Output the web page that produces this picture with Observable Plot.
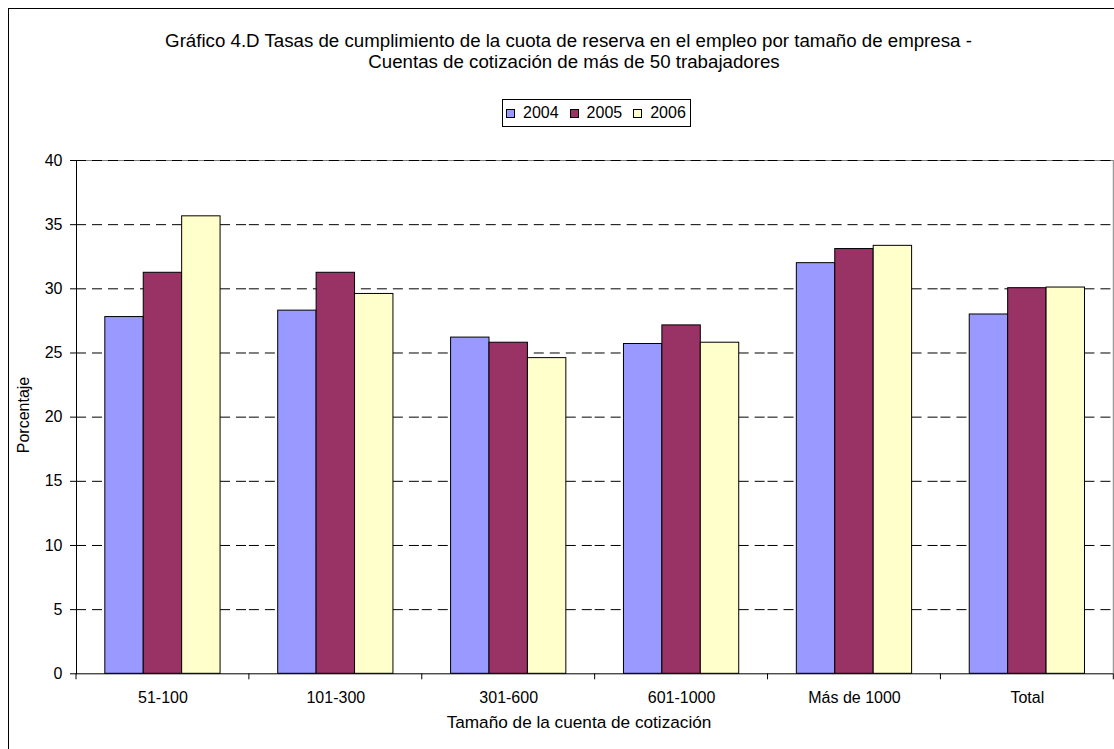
<!DOCTYPE html>
<html><head><meta charset="utf-8">
<script src="https://cdn.jsdelivr.net/npm/d3@7"></script>
<script src="https://cdn.jsdelivr.net/npm/@observablehq/plot@0.6"></script>
<style>
html,body{margin:0;padding:0;background:#fff;}
#wrap{position:relative;width:1114px;height:749px;overflow:hidden;font-family:"Liberation Sans",Arial,sans-serif;color:#000;background:#fff;}
#border{position:absolute;left:8px;top:8px;width:1200px;height:800px;border:1px solid #000;box-sizing:border-box;}
#title{position:absolute;left:0;top:30px;width:1148px;text-align:center;font-size:18.7px;line-height:21px;white-space:nowrap;}
#title .l1{padding-right:11px;}
#legend{position:absolute;left:502px;top:99px;width:189px;height:28px;border:1px solid #000;box-sizing:border-box;display:flex;align-items:center;padding-left:3px;font-size:16px;line-height:18px;}
.item{display:flex;align-items:center;margin-right:11px;}
.sw{width:9px;height:9px;border:1px solid #000;box-sizing:border-box;margin-right:8px;}
#chart{position:absolute;left:0;top:140px;}
#xtitle{position:absolute;left:379px;width:400px;top:712px;text-align:center;font-size:17.2px;line-height:20px;white-space:nowrap;}
#ytitle{position:absolute;left:24.2px;top:414.5px;transform:translate(-50%,-50%) rotate(-90deg);font-size:16px;line-height:18px;white-space:nowrap;}
</style>
</head><body>
<div id="wrap">
  <div id="border"></div>
  <div id="title"></div>
  <div id="legend"></div>
  <div id="chart"></div>
  <div id="xtitle"></div>
  <div id="ytitle"></div>
</div>
<script>
// ---- data ----
const titleLines = [
  "Gráfico 4.D Tasas de cumplimiento de la cuota de reserva en el empleo por tamaño de empresa -",
  "Cuentas de cotización de más de 50 trabajadores"
];
const xTitle = "Tamaño de la cuenta de cotización";
const yTitle = "Porcentaje";
const categories = ["51-100", "101-300", "301-600", "601-1000", "Más de 1000", "Total"];
const years = ["2004", "2005", "2006"];
const colors = ["#9999FF", "#993366", "#FFFFCC"];
const v2004 = [27.8, 28.3, 26.2, 25.7, 32.0, 28.0];
const v2005 = [31.25, 31.25, 25.8, 27.15, 33.1, 30.05];
const v2006 = [35.65, 29.6, 24.6, 25.8, 33.35, 30.1];
const yTicks = [0, 5, 10, 15, 20, 25, 30, 35, 40];

const series = [v2004, v2005, v2006];
const data = [];
categories.forEach((c, i) => years.forEach((yr, j) => data.push({cat: c, year: yr, value: series[j][i]})));

document.getElementById("title").innerHTML = titleLines.map((t, i) => `<div><span class="l${i + 1}">${t}</span></div>`).join("");
document.getElementById("xtitle").textContent = xTitle;
document.getElementById("ytitle").textContent = yTitle;
document.getElementById("legend").innerHTML = years.map((yr, j) =>
  `<div class="item"><div class="sw" style="background:${colors[j]}"></div><span>${yr}</span></div>`).join("");

const chart = Plot.plot({
  width: 1114,
  height: 609,
  marginTop: 20,
  marginBottom: 75.7,
  marginLeft: 76,
  marginRight: 0.7,
  style: {fontFamily: "'Liberation Sans', Arial, sans-serif", fontSize: "16px", color: "black", background: "transparent", overflow: "visible"},
  fx: {domain: categories, padding: 0, round: false, axis: "bottom", label: null, tickSize: 0, tickPadding: 18},
  x: {domain: years, paddingInner: 0, paddingOuter: 0.75, round: false, axis: null},
  y: {domain: [0, 40], ticks: yTicks, tickSize: 6, tickPadding: 8, label: null, line: true},
  color: {domain: years, range: colors},
  marks: [
    Plot.ruleY([40], {stroke: "#808080"}),
    Plot.ruleY(yTicks.filter(d => d > 0), {stroke: "black", strokeDasharray: "10,6"}),
    Plot.barY(data, {fx: "cat", x: "year", y: "value", fill: "year", stroke: "black", strokeWidth: 1}),
    Plot.ruleY([0], {stroke: "black"})
  ]
});
document.getElementById("chart").appendChild(chart);

// category boundary ticks and right border, from Plot's own scales
const fx = chart.scale("fx"), ys = chart.scale("y");
const y0 = ys.apply(0), y40 = ys.apply(40);
const bounds = categories.map(c => fx.apply(c)).concat([fx.apply(categories[categories.length - 1]) + fx.bandwidth]);
const g = d3.select(chart).append("g");
g.selectAll("line.b").data(bounds).join("line")
  .attr("x1", d => d).attr("x2", d => d).attr("y1", y0).attr("y2", y0 + 6)
  .attr("stroke", "black");
g.append("line")
  .attr("x1", bounds[bounds.length - 1]).attr("x2", bounds[bounds.length - 1])
  .attr("y1", y40).attr("y2", y0).attr("stroke", "#808080");
</script>
</body></html>
